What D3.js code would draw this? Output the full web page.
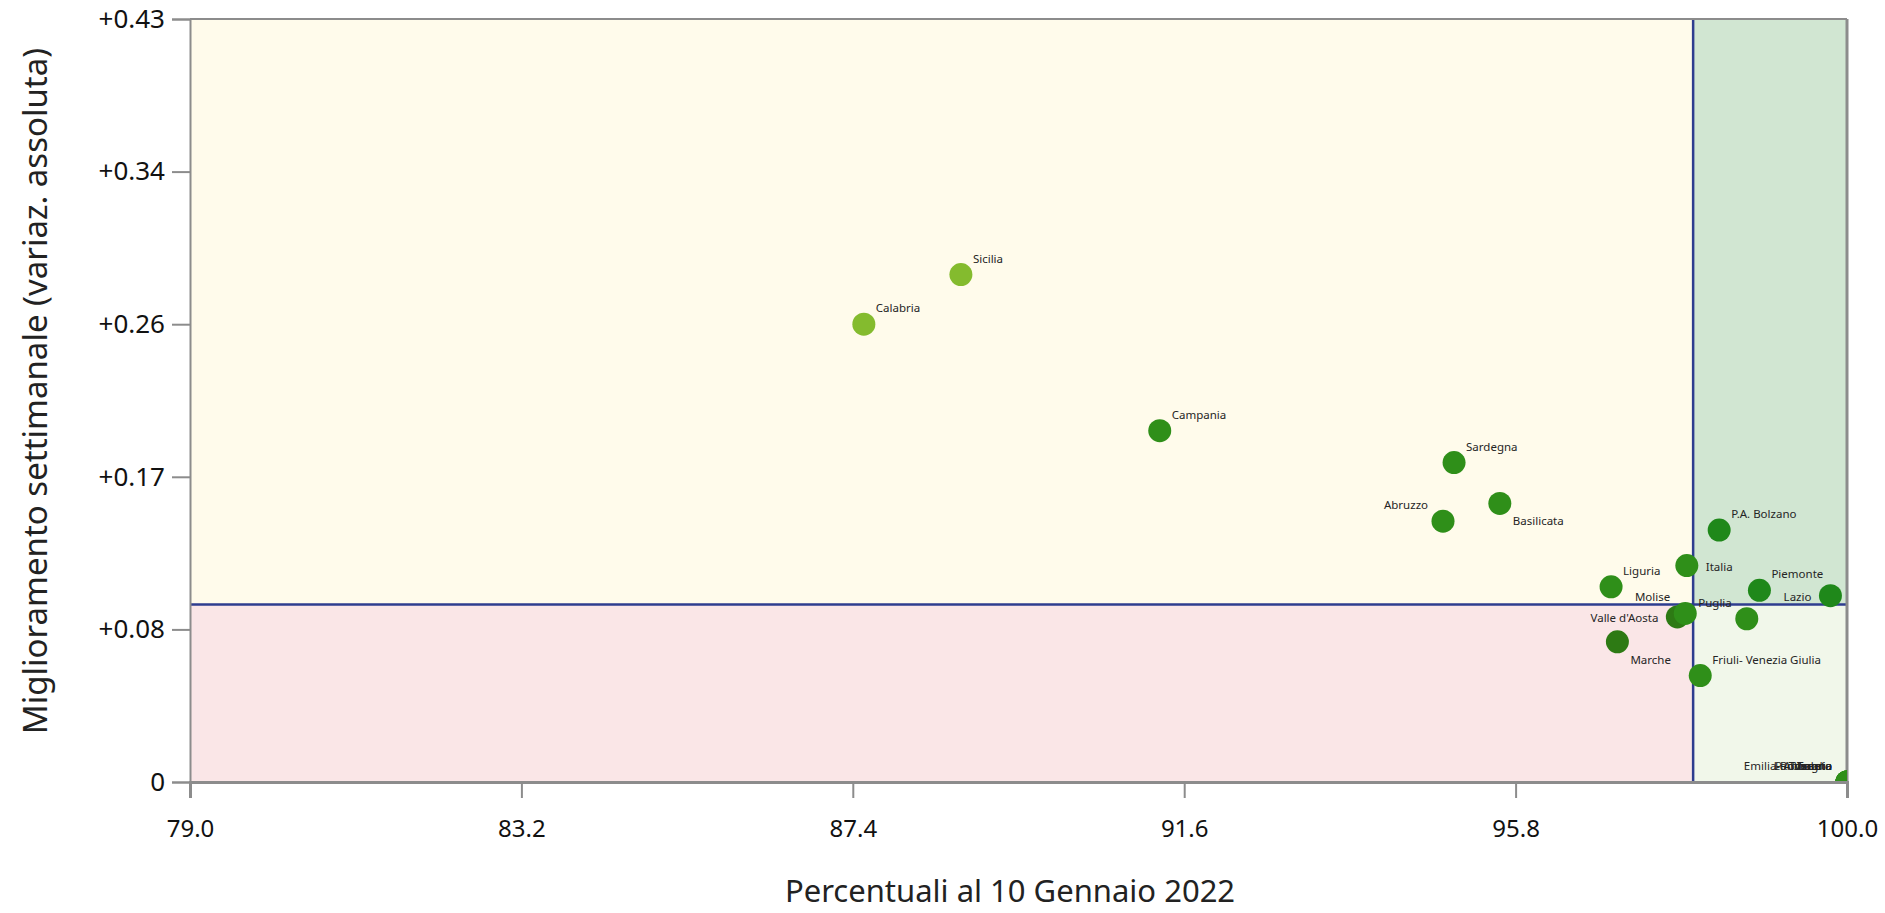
<!DOCTYPE html>
<html>
<head>
<meta charset="utf-8">
<script src="https://cdn.jsdelivr.net/npm/d3@7"></script>
<style>
  body { margin: 0; background: #fff; }
  svg text { font-family: "Segoe UI", "Noto Sans", sans-serif; }
</style>
</head>
<body>
<svg id="chart" width="1885" height="913"></svg>
<script>
// dati
const regioni = ["Sicilia", "Calabria", "Campania", "Sardegna", "Basilicata", "Abruzzo",
  "Liguria", "Marche", "Valle d'Aosta", "Molise", "Italia", "P.A. Bolzano", "Piemonte",
  "Lazio", "Puglia", "Friuli- Venezia Giulia", "Emilia-Romagna", "Lombardia",
  "P.A. Trento", "Toscana", "Umbria", "Veneto"];
const percentuali = [88.77, 87.54, 91.29, 95.02, 95.60, 94.88,
  97.01, 97.09, 97.85, 97.95, 97.97, 98.38, 98.89,
  99.79, 98.73, 98.14, 100, 100,
  100, 100, 100, 100];
const miglioramento = [0.286, 0.258, 0.198, 0.180, 0.157, 0.147,
  0.110, 0.079, 0.093, 0.095, 0.122, 0.142, 0.108,
  0.105, 0.092, 0.060, 0, 0,
  0, 0, 0, 0];
const fascia = ["A", "A", "B", "B", "B", "B",
  "B", "D", "D", "B", "B", "C", "C",
  "C", "B", "B", "B", "B",
  "B", "B", "B", "B"];
const xTicks = [79.0, 83.2, 87.4, 91.6, 95.8, 100.0];
const yTicks = [0, 0.086, 0.172, 0.258, 0.344, 0.43];
const yTickLabels = ["0", "+0.08", "+0.17", "+0.26", "+0.34", "+0.43"];
const sogliaX = 98.05;
const sogliaY = 0.10;

// posizione etichette
const labelPos = {
  "Abruzzo": "tl", "Basilicata": "br", "Marche": "br", "Valle d'Aosta": "l",
  "Molise": "tl", "Italia": "r", "Lazio": "l", "Puglia": "tl",
  "Emilia-Romagna": "tl", "Lombardia": "tl", "P.A. Trento": "tl",
  "Toscana": "tl", "Umbria": "tl", "Veneto": "tl"
};
const offsets = {
  tr: {dx: 12, dy: -12, anchor: "start"},
  br: {dx: 13, dy: 22, anchor: "start"},
  tl: {dx: -15, dy: -12, anchor: "end"},
  l:  {dx: -19, dy: 5, anchor: "end"},
  r:  {dx: 19, dy: 5, anchor: "start"}
};

const svg = d3.select("#chart");
const margin = {top: 19, right: 38, bottom: 131, left: 190};
const width = 1885 - margin.left - margin.right;
const height = 913 - margin.top - margin.bottom;
const g = svg.append("g").attr("transform", "translate(" + margin.left + "," + margin.top + ")");

const x = d3.scaleLinear().domain([79, 100]).range([0, width]);
const y = d3.scaleLinear().domain([0, 0.43]).range([height, 0]);
const colore = d3.scaleOrdinal().domain(["A", "B", "C", "D"])
  .range(["#84bb2e", "#2f8f19", "#1f881a", "#2d7a14"]);

const data = regioni.map(function(r, i) {
  return {name: r, x: percentuali[i], y: miglioramento[i], f: fascia[i]};
});

// quadranti
const quadranti = [
  {x0: 79, x1: sogliaX, y0: sogliaY, y1: 0.43, fill: "#fffbeb"},
  {x0: sogliaX, x1: 100, y0: sogliaY, y1: 0.43, fill: "#d1e6d2"},
  {x0: 79, x1: sogliaX, y0: 0, y1: sogliaY, fill: "#fae6e7"},
  {x0: sogliaX, x1: 100, y0: 0, y1: sogliaY, fill: "#f1f7ea"}
];
g.selectAll(".quad")
  .data(quadranti)
  .enter().append("rect")
    .attr("class", "quad")
    .attr("x", function(d) { return x(d.x0); })
    .attr("y", function(d) { return y(d.y1); })
    .attr("width", function(d) { return x(d.x1) - x(d.x0); })
    .attr("height", function(d) { return y(d.y0) - y(d.y1); })
    .attr("fill", function(d) { return d.fill; });

g.append("line")
  .attr("x1", x(sogliaX)).attr("x2", x(sogliaX))
  .attr("y1", 0).attr("y2", height)
  .attr("stroke", "#2e3d8f").attr("stroke-width", 2.5);
g.append("line")
  .attr("x1", 0).attr("x2", width)
  .attr("y1", y(sogliaY)).attr("y2", y(sogliaY))
  .attr("stroke", "#2e3d8f").attr("stroke-width", 2.5);

// bordo superiore e destro
g.append("line").attr("x1", 0).attr("x2", width).attr("y1", 0).attr("y2", 0)
  .attr("stroke", "#8c8c8c").attr("stroke-width", 2);
g.append("line").attr("x1", width).attr("x2", width).attr("y1", 0).attr("y2", height)
  .attr("stroke", "#8c8c8c").attr("stroke-width", 3);

svg.append("defs").append("clipPath").attr("id", "clip")
  .append("rect").attr("width", width).attr("height", height);

const punti = g.append("g").attr("clip-path", "url(#clip)");
punti.selectAll("circle")
  .data(data)
  .enter().append("circle")
    .attr("cx", function(d) { return x(d.x); })
    .attr("cy", function(d) { return y(d.y); })
    .attr("r", 11.5)
    .attr("fill", function(d) { return colore(d.f); });

g.selectAll(".etichetta")
  .data(data)
  .enter().append("text")
    .attr("class", "etichetta")
    .attr("x", function(d) { return x(d.x) + offsets[labelPos[d.name] || "tr"].dx; })
    .attr("y", function(d) { return y(d.y) + offsets[labelPos[d.name] || "tr"].dy; })
    .attr("text-anchor", function(d) { return offsets[labelPos[d.name] || "tr"].anchor; })
    .style("font-size", "11.5px")
    .attr("fill", "#252525")
    .text(function(d) { return d.name; });

// assi
const xAxis = g.append("g")
  .attr("transform", "translate(0," + height + ")")
  .call(d3.axisBottom(x).tickValues(xTicks).tickFormat(d3.format(".1f")).tickSize(16).tickPadding(22));
const yAxis = g.append("g")
  .call(d3.axisLeft(y).tickValues(yTicks).tickFormat(function(d, i) { return yTickLabels[i]; }).tickSize(18).tickPadding(7));

[xAxis, yAxis].forEach(function(a) {
  a.select(".domain").attr("stroke", "#8c8c8c").attr("stroke-width", 3);
  a.selectAll(".tick line").attr("stroke", "#8c8c8c").attr("stroke-width", 2);
  a.selectAll(".tick text").attr("fill", "#111");
});
xAxis.selectAll(".tick text").style("font-size", "24px");
yAxis.selectAll(".tick text").style("font-size", "26px");
yAxis.select(".domain").attr("stroke-width", 2);

svg.append("text")
  .attr("x", 1010).attr("y", 902)
  .attr("text-anchor", "middle")
  .style("font-size", "31px")
  .attr("fill", "#222")
  .text("Percentuali al 10 Gennaio 2022");

svg.append("text")
  .attr("transform", "translate(34,391) rotate(-90)")
  .attr("text-anchor", "middle")
  .attr("dominant-baseline", "central")
  .style("font-size", "33px")
  .attr("fill", "#222")
  .text("Miglioramento settimanale (variaz. assoluta)");
</script>
</body>
</html>
